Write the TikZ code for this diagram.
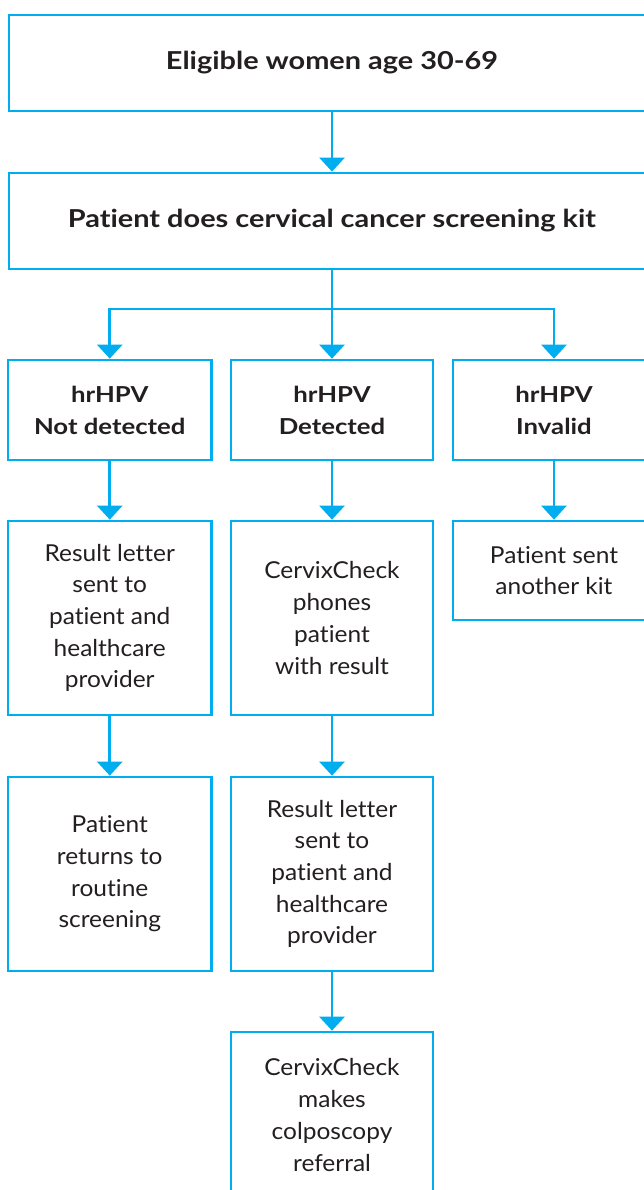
\documentclass[tikz,border=0pt]{standalone}
\usepackage{fontspec}
\setmainfont{Lato}[FakeStretch=1.05, Ligatures=NoCommon]
\newfontfamily\headfont{Lato}[FakeStretch=1.17, Ligatures=NoCommon]
\usetikzlibrary{arrows.meta}
\definecolor{cyanline}{HTML}{00AEEF}
\definecolor{ink}{HTML}{231F20}
\tikzset{
  box/.style={draw=cyanline, line width=2.7pt, fill=white, inner sep=0pt, align=center, text=ink,
              font=\fontsize{23.3}{31.7}\selectfont},
  head/.style={box, font=\headfont\fontsize{22}{32}\selectfont\bfseries},
  title/.style={box, font=\headfont\fontsize{24.7}{32}\selectfont\bfseries},
  arr/.style={draw=cyanline, line width=2.7pt, -{Triangle[width=25pt,length=14pt]}},
  conn/.style={draw=cyanline, line width=2.7pt}
}
\begin{document}
\begin{tikzpicture}[x=1pt,y=1pt]
\useasboundingbox (0,0) rectangle (644,-1190);
\clip (0,0) rectangle (644,-1190);
\node[title, minimum width=646pt, minimum height=96pt] (top) at (332,-63) {Eligible women age 30-69};
\node[title, minimum width=646pt, minimum height=96pt] (kit) at (332,-221) {Patient does cervical cancer screening kit};
\node[head, minimum width=203.5pt, minimum height=100pt] (nd) at (109.75,-410) {hrHPV\\Not detected};
\node[head, minimum width=202pt, minimum height=100pt] (det) at (332,-410) {hrHPV\\Detected};
\node[head, minimum width=202pt, minimum height=100pt] (inv) at (554,-410) {hrHPV\\Invalid};
\node[box, minimum width=203.5pt, minimum height=194pt] (ndl) at (109.75,-618) {Result letter\\sent to\\patient and\\healthcare\\provider};
\node[box, minimum width=202pt, minimum height=194pt] (ph) at (332,-618) {CervixCheck\\phones\\patient\\with result};
\node[box, minimum width=202pt, minimum height=99pt] (kit2) at (554,-570.5) {Patient sent\\another kit};
\node[box, minimum width=203.5pt, minimum height=194pt] (rout) at (109.75,-874) {Patient\\returns to\\routine\\screening};
\node[box, minimum width=202pt, minimum height=194pt] (detl) at (332,-874) {Result letter\\sent to\\patient and\\healthcare\\provider};
\node[box, minimum width=202pt, minimum height=166pt] (colp) at (332,-1115) {CervixCheck\\makes\\colposcopy\\referral};
\coordinate (br) at (332,-309);
\draw[arr] (top.south) -- (kit.north);
\draw[conn] (kit.south) -- (br);
\draw[arr] (br) -- (det.north);
\draw[arr] (br) -| (nd.north);
\draw[arr] (br) -| (inv.north);
\draw[arr] (nd.south) -- (ndl.north);
\draw[arr] (det.south) -- (ph.north);
\draw[arr] (inv.south) -- (kit2.north);
\draw[arr] (ndl.south) -- (rout.north);
\draw[arr] (ph.south) -- (detl.north);
\draw[arr] (detl.south) -- (colp.north);
\end{tikzpicture}
\end{document}
